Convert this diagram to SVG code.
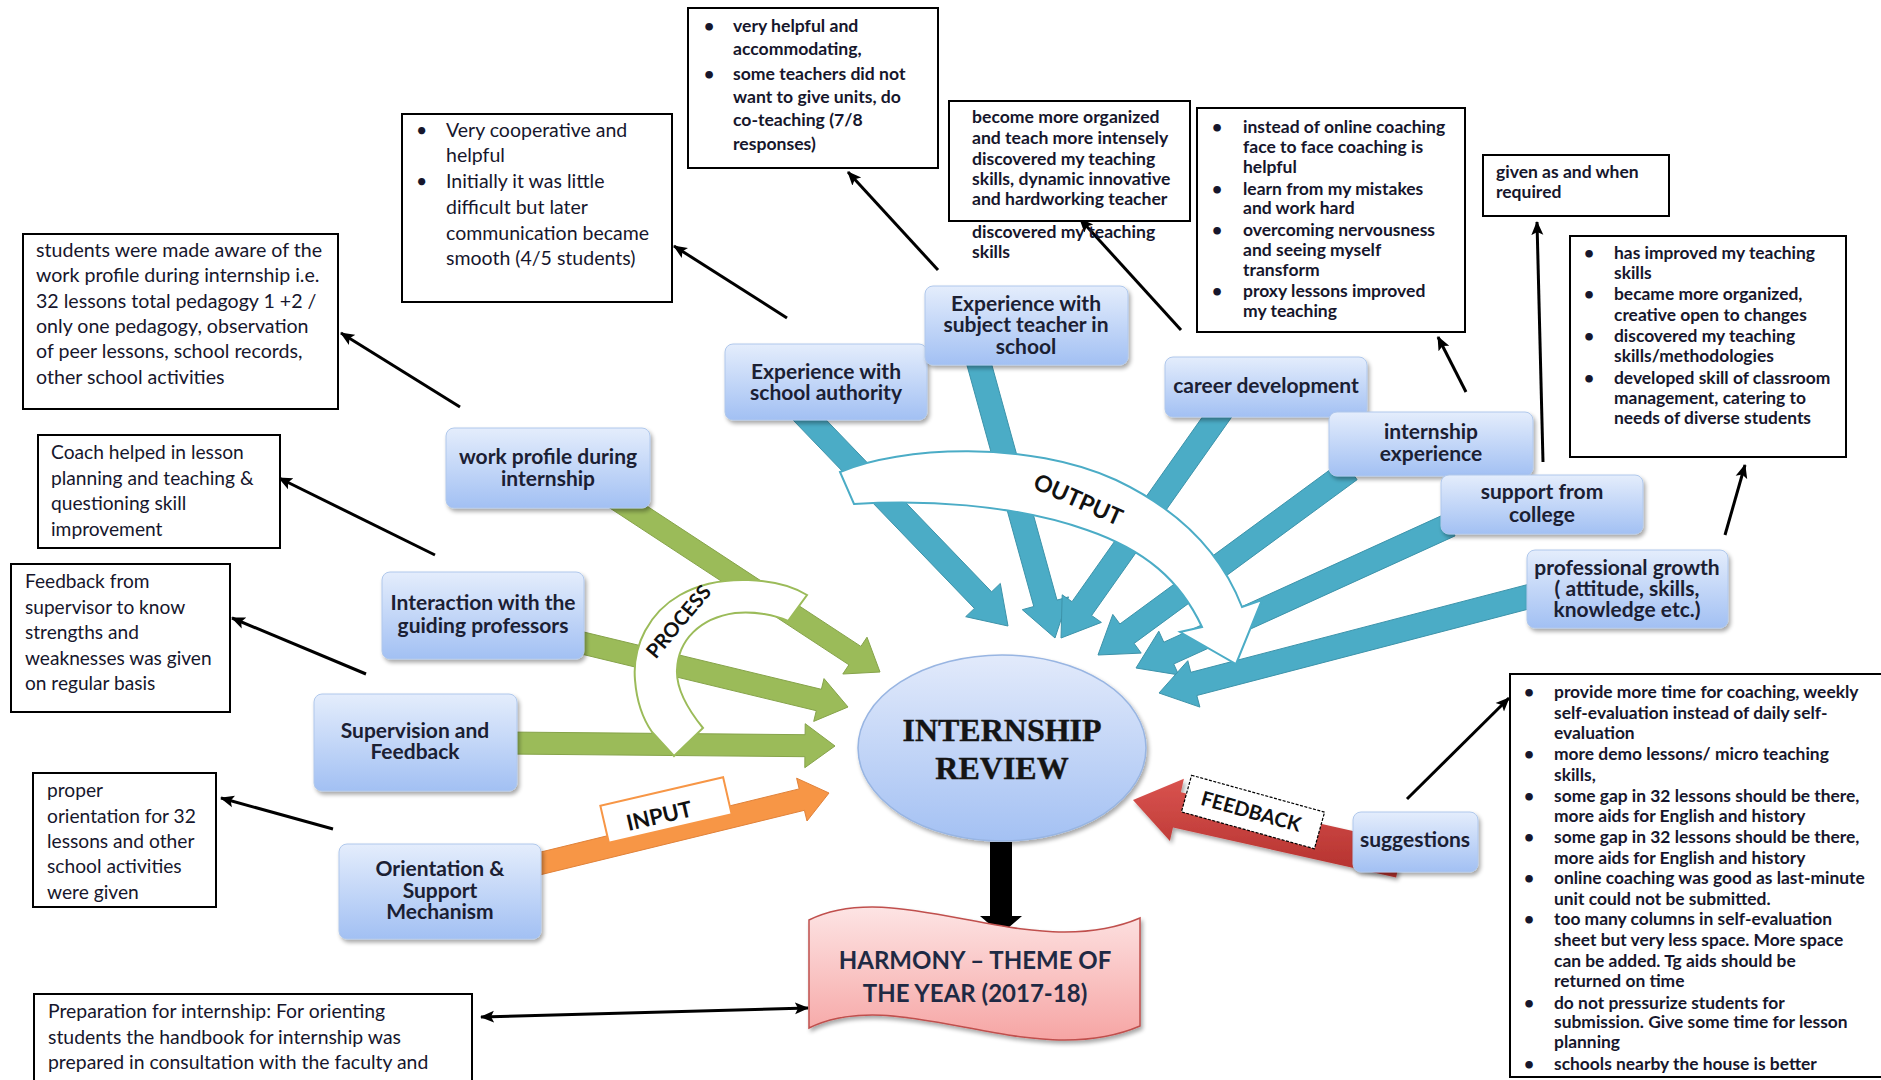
<svg xmlns="http://www.w3.org/2000/svg" width="1881" height="1080" viewBox="0 0 1881 1080">
<defs>
  <linearGradient id="gNode" x1="0" y1="0" x2="0" y2="1">
    <stop offset="0" stop-color="#e4edfc"/>
    <stop offset="1" stop-color="#a2c0f3"/>
  </linearGradient>
  <linearGradient id="gEll" x1="0" y1="0" x2="0" y2="1">
    <stop offset="0" stop-color="#e2eafb"/>
    <stop offset="1" stop-color="#a4c1f3"/>
  </linearGradient>
  <linearGradient id="gBan" x1="0" y1="0" x2="0" y2="1">
    <stop offset="0" stop-color="#fde4e4"/>
    <stop offset="1" stop-color="#f6a5a4"/>
  </linearGradient>
  <linearGradient id="gRed" x1="0" y1="0" x2="0" y2="1">
    <stop offset="0" stop-color="#d9534f"/>
    <stop offset="1" stop-color="#b3302d"/>
  </linearGradient>
  <filter id="sh" x="-15%" y="-15%" width="135%" height="145%">
    <feGaussianBlur in="SourceAlpha" stdDeviation="2"/>
    <feOffset dx="1.5" dy="2.5"/>
    <feComponentTransfer><feFuncA type="linear" slope="0.35"/></feComponentTransfer>
    <feMerge><feMergeNode/><feMergeNode in="SourceGraphic"/></feMerge>
  </filter>
  <marker id="ah" markerUnits="userSpaceOnUse" markerWidth="16" markerHeight="14" refX="13" refY="7" orient="auto-start-reverse">
    <path d="M0,1 L14,7 L0,13 L3,7 z" fill="#000"/>
  </marker>
</defs>
<style>
  .box{fill:#fff;stroke:#000;stroke-width:2}
  .ct{font-family:Lato,"Liberation Sans",sans-serif;fill:#16162c}
  .b{font-weight:bold}
  .node rect{fill:url(#gNode);stroke:#b0c8ec;stroke-width:1;filter:url(#sh)}
  .nt{font-family:Lato,"Liberation Sans",sans-serif;font-weight:bold;font-size:21px;fill:#1b2033;text-anchor:middle}
  .call{stroke:#000;stroke-width:3;fill:none;marker-end:url(#ah)}
  .green{fill:#9bbb59;stroke:#86a34a;stroke-width:1}
  .teal{fill:#4bacc6;stroke:#3d93aa;stroke-width:1}
  .lbl{font-family:Lato,"Liberation Sans",sans-serif;font-weight:bold;fill:#111}
</style>
<rect width="1881" height="1080" fill="#fff"/>

<g id="connectors">
  <!-- green process arrows -->
  <polygon class="green" points="604,504.2 848.9,664.8 842.8,674 880,672 867,637.2 860.9,646.4 616,485.8"/>
  <polygon class="green" points="567.4,650.7 816.3,710.7 813.7,721.4 848,707 824,678.6 821.4,689.3 572.6,629.3"/>
  <polygon class="green" points="504.9,754 804.9,756.7 804.8,767.7 835,746 805.2,723.7 805.1,734.7 505.1,732"/>
  <!-- teal output arrows -->
  <polygon class="teal" points="791.4,418.3 974.4,608.4 965.7,616.7 1008,626 1000.3,583.4 991.6,591.8 808.6,401.7"/>
  <polygon class="teal" points="966.4,363.2 1033.8,606.5 1022.3,609.7 1055,638 1068.5,596.9 1057,600.1 989.6,356.8"/>
  <polygon class="teal" points="1212.2,403.1 1072,601.7 1062.2,594.8 1061,638 1101.4,622.4 1091.6,615.5 1231.8,416.9"/>
  <polygon class="teal" points="1342.9,460.3 1119.9,624 1112.8,614.4 1098,655 1141.2,653.1 1134.1,643.4 1357.1,479.7"/>
  <polygon class="teal" points="1445,514.1 1163.8,642.2 1158.8,631.2 1136,668 1178.7,674.9 1173.7,664 1455,535.9"/>
  <polygon class="teal" points="1532,583.4 1190.8,672.3 1187.8,660.7 1159,693 1199.9,707.1 1196.8,695.5 1538,606.6"/>
  <!-- orange input arrow -->
  <polygon fill="#f79646" stroke="#e0823a" stroke-width="1" points="532.6,876.7 804.4,810.3 807,821 829,793 796.6,778.2 799.2,788.9 527.4,855.3"/>
  <!-- red feedback arrow -->
  <polygon fill="url(#gRed)" filter="url(#sh)" points="1403.9,842.4 1180.9,792.3 1183.9,778.7 1133,800 1169.9,841.1 1173,827.5 1396.1,877.6"/>
  <!-- PROCESS curved band -->
  <path d="M807,595 C780,578 720,572 680,595 C650,612 632,645 635,680 C637,705 645,722 652,732 L674,756 L703,728 C690,712 676,690 677,670 C678,640 700,618 735,613 C755,611 775,615 788,621 Z" fill="#fff" stroke="#9bbb59" stroke-width="2"/>
  <text class="lbl" style="font-size:20px" transform="translate(684,626) rotate(-50)" text-anchor="middle">PROCESS</text>
  <!-- OUTPUT curved band -->
  <path d="M840,472 C900,446 1030,440 1116,480 C1175,508 1220,550 1242,607 L1262,600 L1236,664 L1180,632 L1202,627 C1180,580 1145,550 1087,530 C1010,503 920,500 854,504 Z" fill="#fff" stroke="#4bacc6" stroke-width="2"/>
  <text class="lbl" style="font-size:23px" transform="translate(1075,507) rotate(24)" text-anchor="middle">OUTPUT</text>
  <!-- INPUT label -->
  <g transform="translate(666,810) rotate(-13)">
    <rect x="-63" y="-19" width="126" height="38" fill="#fff" stroke="#f79646" stroke-width="2"/>
    <text class="lbl" style="font-size:22px" x="-8" y="12" text-anchor="middle">INPUT</text>
  </g>
  <!-- FEEDBACK label -->
  <g transform="translate(1253,812) rotate(15.5)">
    <rect x="-69" y="-19" width="138" height="38" fill="#fff" stroke="#000" stroke-width="1.2" stroke-dasharray="3 1.5"/>
    <text class="lbl" style="font-size:20px" x="-2" y="7" text-anchor="middle">FEEDBACK</text>
  </g>
  <!-- black down arrow -->
  <polygon fill="#000" points="990,842 1012,842 1012,916 1022,916 1001,934 980,916 990,916"/>
  <!-- callout connectors -->
  <line class="call" x1="460" y1="407" x2="341" y2="333"/>
  <line class="call" x1="787" y1="318" x2="674" y2="246"/>
  <line class="call" x1="938" y1="270" x2="848" y2="172"/>
  <line class="call" x1="1181" y1="330" x2="1080" y2="219"/>
  <line class="call" x1="1466" y1="392" x2="1438" y2="337"/>
  <line class="call" x1="1543" y1="462" x2="1537" y2="222"/>
  <line class="call" x1="1725" y1="535" x2="1745" y2="465"/>
  <line class="call" x1="1407" y1="799" x2="1509" y2="698"/>
  <line class="call" x1="435" y1="555" x2="279" y2="478"/>
  <line class="call" x1="366" y1="674" x2="232" y2="618"/>
  <line class="call" x1="333" y1="829" x2="221" y2="798"/>
  <line class="call" x1="481" y1="1017" x2="808" y2="1008" marker-start="url(#ah)"/>
</g>

<!-- process nodes -->
<g id="n-workprofile" class="node"><rect x="446" y="428" width="204" height="80" rx="8"/>
  <text class="nt"><tspan x="548" y="464">work profile during</tspan><tspan x="548" y="486">internship</tspan></text></g>
<g id="n-interaction" class="node"><rect x="382" y="572" width="202" height="87" rx="8"/>
  <text class="nt"><tspan x="483" y="610">Interaction with the</tspan><tspan x="483" y="633">guiding professors</tspan></text></g>
<g id="n-supervision" class="node"><rect x="314" y="694" width="203" height="97" rx="8"/>
  <text class="nt"><tspan x="415" y="738">Supervision and</tspan><tspan x="415" y="759">Feedback</tspan></text></g>
<g id="n-orientation" class="node"><rect x="339" y="844" width="202" height="95" rx="8"/>
  <text class="nt"><tspan x="440" y="876">Orientation &amp;</tspan><tspan x="440" y="898">Support</tspan><tspan x="440" y="919">Mechanism</tspan></text></g>

<!-- output nodes -->
<g id="n-authority" class="node"><rect x="725" y="344" width="202" height="76" rx="8"/>
  <text class="nt"><tspan x="826" y="379">Experience with</tspan><tspan x="826" y="400">school authority</tspan></text></g>
<g id="n-subject" class="node"><rect x="925" y="286" width="203" height="79" rx="8"/>
  <text class="nt"><tspan x="1026" y="311">Experience with</tspan><tspan x="1026" y="332">subject teacher in</tspan><tspan x="1026" y="354">school</tspan></text></g>
<g id="n-career" class="node"><rect x="1165" y="357" width="202" height="60" rx="8"/>
  <text class="nt"><tspan x="1266" y="393">career development</tspan></text></g>
<g id="n-intexp" class="node"><rect x="1329" y="412" width="204" height="64" rx="8"/>
  <text class="nt"><tspan x="1431" y="439">internship</tspan><tspan x="1431" y="461">experience</tspan></text></g>
<g id="n-support" class="node"><rect x="1441" y="475" width="202" height="59" rx="8"/>
  <text class="nt"><tspan x="1542" y="499">support from</tspan><tspan x="1542" y="522">college</tspan></text></g>
<g id="n-growth" class="node"><rect x="1527" y="550" width="201" height="78" rx="8"/>
  <text class="nt"><tspan x="1627" y="575">professional growth</tspan><tspan x="1627" y="596">( attitude, skills,</tspan><tspan x="1627" y="617">knowledge etc.)</tspan></text></g>
<g id="n-suggestions" class="node"><rect x="1353" y="812" width="125" height="60" rx="8"/>
  <text class="nt"><tspan x="1415" y="847">suggestions</tspan></text></g>

<!-- centre -->
<g id="n-review">
  <ellipse cx="1002" cy="748" rx="144" ry="93" fill="url(#gEll)" stroke="#98b5e2" stroke-width="1.5" filter="url(#sh)"/>
  <text font-family="'Liberation Serif',serif" font-weight="bold" font-size="32" fill="#151515" text-anchor="middle" stroke="#151515" stroke-width="0.4"><tspan x="1002" y="741">INTERNSHIP</tspan><tspan x="1002" y="779">REVIEW</tspan></text>
</g>
<g id="n-harmony">
  <path d="M809,920 C900,875 1030,965 1140,918 L1140,1026 C1030,1073 900,983 809,1028 Z" fill="url(#gBan)" stroke="#c0504d" stroke-width="1.5" filter="url(#sh)"/>
  <text font-family="Lato,'Liberation Sans',sans-serif" font-weight="bold" font-size="24" fill="#1f2a44" text-anchor="middle"><tspan x="975" y="969">HARMONY – THEME OF</tspan><tspan x="975" y="1002">THE YEAR (2017-18)</tspan></text>
</g>

<!-- callout boxes -->
<g id="c-workprofile"><rect class="box" x="23" y="234" width="315" height="175"/>
  <text class="ct" style="font-size:19.6px"><tspan x="36" y="257">students were made aware of the</tspan><tspan x="36" y="282">work profile during internship i.e.</tspan><tspan x="36" y="308">32 lessons total pedagogy 1 +2 /</tspan><tspan x="36" y="333">only one pedagogy, observation</tspan><tspan x="36" y="358">of peer lessons, school records,</tspan><tspan x="36" y="384">other school activities</tspan></text></g>

<g id="c-authority"><rect class="box" x="402" y="114" width="270" height="188"/>
  <text class="ct" style="font-size:19.5px"><tspan x="416" y="137">•</tspan><tspan x="446" y="137">Very cooperative and</tspan><tspan x="446" y="162">helpful</tspan><tspan x="416" y="188">•</tspan><tspan x="446" y="188">Initially it was little</tspan><tspan x="446" y="214">difficult but later</tspan><tspan x="446" y="240">communication became</tspan><tspan x="446" y="265">smooth (4/5 students)</tspan></text></g>

<g id="c-subject"><rect class="box" x="688" y="8" width="250" height="160"/>
  <text class="ct b" style="font-size:17.6px"><tspan x="704" y="32">•</tspan><tspan x="733" y="32">very helpful and</tspan><tspan x="733" y="55">accommodating,</tspan><tspan x="704" y="80">•</tspan><tspan x="733" y="80">some teachers did not</tspan><tspan x="733" y="103">want to give units, do</tspan><tspan x="733" y="126">co-teaching (7/8</tspan><tspan x="733" y="150">responses)</tspan></text></g>

<g id="c-career"><rect class="box" x="949" y="101" width="241" height="120"/>
  <text class="ct b" style="font-size:17.6px"><tspan x="972" y="123">become more organized</tspan><tspan x="972" y="144">and teach more intensely</tspan><tspan x="972" y="165">discovered my teaching</tspan><tspan x="972" y="185">skills, dynamic innovative</tspan><tspan x="972" y="205">and hardworking teacher</tspan><tspan x="972" y="238">discovered my teaching</tspan><tspan x="972" y="258">skills</tspan></text></g>

<g id="c-intexp"><rect class="box" x="1197" y="108" width="268" height="224"/>
  <text class="ct b" style="font-size:17.5px"><tspan x="1212" y="133">•</tspan><tspan x="1243" y="133">instead of online coaching</tspan><tspan x="1243" y="153">face to face coaching is</tspan><tspan x="1243" y="173">helpful</tspan><tspan x="1212" y="195">•</tspan><tspan x="1243" y="195">learn from my mistakes</tspan><tspan x="1243" y="214">and work hard</tspan><tspan x="1212" y="236">•</tspan><tspan x="1243" y="236">overcoming nervousness</tspan><tspan x="1243" y="256">and seeing myself</tspan><tspan x="1243" y="276">transform</tspan><tspan x="1212" y="297">•</tspan><tspan x="1243" y="297">proxy lessons improved</tspan><tspan x="1243" y="317">my teaching</tspan></text></g>

<g id="c-support"><rect class="box" x="1483" y="155" width="186" height="61"/>
  <text class="ct b" style="font-size:17.5px"><tspan x="1496" y="178">given as and when</tspan><tspan x="1496" y="198">required</tspan></text></g>

<g id="c-growth"><rect class="box" x="1570" y="236" width="276" height="221"/>
  <text class="ct b" style="font-size:17.4px"><tspan x="1584" y="259">•</tspan><tspan x="1614" y="259">has improved my teaching</tspan><tspan x="1614" y="279">skills</tspan><tspan x="1584" y="300">•</tspan><tspan x="1614" y="300">became more organized,</tspan><tspan x="1614" y="321">creative open to changes</tspan><tspan x="1584" y="342">•</tspan><tspan x="1614" y="342">discovered my teaching</tspan><tspan x="1614" y="362">skills/methodologies</tspan><tspan x="1584" y="384">•</tspan><tspan x="1614" y="384">developed skill of classroom</tspan><tspan x="1614" y="404">management, catering to</tspan><tspan x="1614" y="424">needs of diverse students</tspan></text></g>

<g id="c-interaction"><rect class="box" x="38" y="435" width="242" height="113"/>
  <text class="ct" style="font-size:19.2px"><tspan x="51" y="459">Coach helped in lesson</tspan><tspan x="51" y="485">planning and teaching &amp;</tspan><tspan x="51" y="510">questioning skill</tspan><tspan x="51" y="536">improvement</tspan></text></g>

<g id="c-supervision"><rect class="box" x="11" y="564" width="219" height="148"/>
  <text class="ct" style="font-size:19.1px"><tspan x="25" y="588">Feedback from</tspan><tspan x="25" y="614">supervisor to know</tspan><tspan x="25" y="639">strengths and</tspan><tspan x="25" y="665">weaknesses was given</tspan><tspan x="25" y="690">on regular basis</tspan></text></g>

<g id="c-orientation"><rect class="box" x="33" y="773" width="183" height="134"/>
  <text class="ct" style="font-size:19.2px"><tspan x="47" y="797">proper</tspan><tspan x="47" y="823">orientation for 32</tspan><tspan x="47" y="848">lessons and other</tspan><tspan x="47" y="873">school activities</tspan><tspan x="47" y="899">were given</tspan></text></g>

<g id="c-preparation"><rect class="box" x="34" y="994" width="438" height="95"/>
  <text class="ct" style="font-size:19.4px"><tspan x="48" y="1018">Preparation for internship: For orienting</tspan><tspan x="48" y="1044">students the handbook for internship was</tspan><tspan x="48" y="1069">prepared in consultation with the faculty and</tspan></text></g>

<g id="c-suggestions"><rect class="box" x="1510" y="674" width="380" height="403"/>
  <text class="ct b" style="font-size:17.4px"><tspan x="1524" y="698">•</tspan><tspan x="1554" y="698">provide more time for coaching, weekly</tspan><tspan x="1554" y="719">self-evaluation instead of daily self-</tspan><tspan x="1554" y="739">evaluation</tspan><tspan x="1524" y="760">•</tspan><tspan x="1554" y="760">more demo lessons/ micro teaching</tspan><tspan x="1554" y="781">skills,</tspan><tspan x="1524" y="802">•</tspan><tspan x="1554" y="802">some gap in 32 lessons should be there,</tspan><tspan x="1554" y="822">more aids for English and history</tspan><tspan x="1524" y="843">•</tspan><tspan x="1554" y="843">some gap in 32 lessons should be there,</tspan><tspan x="1554" y="864">more aids for English and history</tspan><tspan x="1524" y="884">•</tspan><tspan x="1554" y="884">online coaching was good as last-minute</tspan><tspan x="1554" y="905">unit could not be submitted.</tspan><tspan x="1524" y="925">•</tspan><tspan x="1554" y="925">too many columns in self-evaluation</tspan><tspan x="1554" y="946">sheet but very less space. More space</tspan><tspan x="1554" y="967">can be added. Tg aids should be</tspan><tspan x="1554" y="987">returned on time</tspan><tspan x="1524" y="1009">•</tspan><tspan x="1554" y="1009">do not pressurize students for</tspan><tspan x="1554" y="1028">submission. Give some time for lesson</tspan><tspan x="1554" y="1048">planning</tspan><tspan x="1524" y="1070">•</tspan><tspan x="1554" y="1070">schools nearby the house is better</tspan></text></g>
</svg>
